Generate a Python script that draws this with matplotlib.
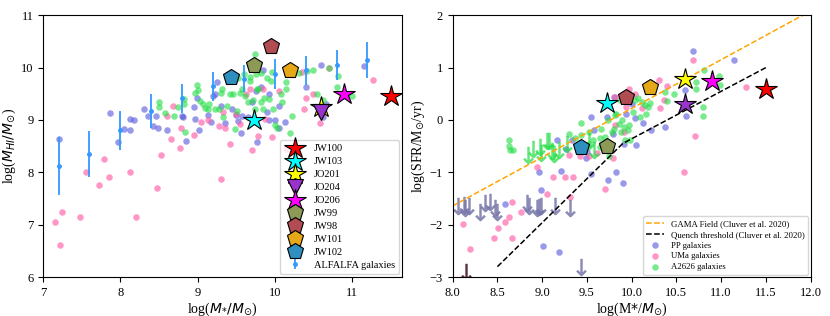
import matplotlib
matplotlib.use("Agg")
import matplotlib.pyplot as plt
import numpy as np

plt.rcParams['font.family'] = ['Liberation Serif', 'DejaVu Sans']
plt.rcParams['mathtext.fontset'] = 'dejavusans'

# ---- panel a: HI mass vs stellar mass ----
pp_hi_x = [7.2, 7.86, 7.97, 8.05, 8.12, 8.13, 8.18, 8.3, 8.36, 8.42, 8.46, 8.49, 8.61, 8.8, 8.81, 8.85,
           8.95, 8.97, 8.99, 9.02, 9.13, 9.17, 9.2, 9.22, 9.25, 9.3, 9.35, 9.45, 9.5, 9.53, 9.56, 9.58,
           9.65, 9.7, 9.76, 9.77, 9.82, 9.85, 9.9, 9.92, 9.93, 10.0, 10.05, 10.05, 10.13, 10.4, 10.6,
           10.66, 11.15, 10.62]
pp_hi_y = [8.63, 9.13, 8.57, 8.83, 8.8, 9.02, 9.0, 9.2, 9.07, 8.88, 9.07, 8.85, 8.8, 9.07, 9.05, 8.59,
           9.25, 9.02, 9.41, 8.81, 9.09, 8.97, 9.46, 9.5, 9.72, 9.27, 8.95, 9.2, 9.1, 8.98, 8.75, 9.07,
           9.05, 9.35, 9.55, 8.57, 9.62, 9.95, 9.15, 9.0, 9.5, 9.0, 8.85, 9.27, 8.97, 9.62, 10.05,
           9.3, 10.03, 9.05]

uma_hi_x = [7.15, 7.22, 7.24, 7.48, 7.55, 7.72, 7.79, 7.85, 8.13, 8.2, 8.47, 8.52, 8.6, 8.65, 8.68,
            8.77, 8.78, 8.95, 9.05, 9.13, 9.28, 9.3, 9.33, 9.36, 9.42, 9.5, 9.55, 9.63, 9.68, 9.71,
            9.78, 9.85, 9.88, 9.97, 10.05, 10.14, 10.35, 10.38, 10.4, 10.5, 10.58, 10.7, 11.27, 10.6]
uma_hi_y = [7.05, 6.62, 7.25, 7.15, 8.0, 7.75, 8.25, 7.92, 8.0, 7.15, 7.7, 8.34, 9.07, 8.64, 9.27,
            8.47, 8.84, 8.71, 8.96, 9.0, 8.89, 7.87, 9.15, 8.85, 8.55, 9.12, 8.93, 9.5, 9.6, 8.42,
            8.7, 9.6, 9.02, 8.67, 9.55, 8.45, 9.91, 9.2, 9.41, 9.5, 8.94, 10.0, 9.76, 9.1]

a26_hi_x = [8.5, 8.5, 8.58, 8.69, 8.75, 8.83, 8.83, 8.84, 8.97, 8.99, 9.01, 9.03, 9.07, 9.1, 9.13,
            9.22, 9.28, 9.32, 9.33, 9.38, 9.42, 9.46, 9.48, 9.51, 9.55, 9.57, 9.6, 9.62, 9.65, 9.68,
            9.72, 9.74, 9.75, 9.76, 9.78, 9.82, 9.82, 9.85, 9.86, 9.9, 9.92, 9.95, 9.97, 9.98, 10.0,
            10.03, 10.08, 10.1, 10.15, 10.15, 10.2, 10.22, 10.32, 10.42, 10.5, 10.55, 10.62, 10.7,
            10.8, 10.82, 11.0, 9.3, 9.15, 9.52, 9.68, 9.77]
a26_hi_y = [9.34, 9.25, 9.13, 9.07, 9.24, 9.4, 9.3, 8.77, 9.52, 9.67, 9.58, 9.36, 9.3, 9.22, 9.21,
            9.2, 9.2, 9.6, 9.05, 9.27, 9.5, 9.5, 8.83, 9.17, 9.52, 9.6, 9.88, 9.45, 9.35, 9.82,
            9.38, 9.2, 10.25, 9.87, 9.6, 9.35, 9.9, 9.2, 9.42, 9.8, 9.4, 9.75, 9.92, 9.2, 8.9,
            8.85, 9.5, 9.35, 9.73, 9.6, 8.75, 9.07, 9.9, 9.93, 9.95, 9.5, 9.38, 9.99,
            9.63, 9.83, 9.45, 9.52, 9.3, 9.8, 9.75, 9.6]

alfalfa_x = [7.2, 7.6, 8.0, 8.4, 8.8, 9.2, 9.6, 10.0, 10.4, 10.8, 11.2]
alfalfa_y = [8.12, 8.35, 8.8, 9.17, 9.41, 9.64, 9.79, 9.88, 9.95, 10.05, 10.14]
alfalfa_err = [0.55, 0.44, 0.38, 0.32, 0.28, 0.28, 0.25, 0.28, 0.28, 0.28, 0.34]

# ---- panel b: SFR vs stellar mass ----
pp_sfr_x = [8.59, 8.96, 8.99, 9.01, 9.19, 9.21, 9.17, 9.27, 9.33, 9.49, 9.5, 9.55, 9.55, 9.58, 9.72,
            9.73, 9.79, 9.8, 9.83, 9.9, 9.91, 9.94, 10.04, 10.05, 10.13, 10.22, 10.37, 10.6, 10.61,
            10.68, 11.14, 10.0]
pp_sfr_y = [-1.61, -0.99, -1.33, -2.41, -2.52, -0.97, -0.39, -0.55, -0.39, -0.72, -0.61, -1.03, 0.06,
            -0.2, 0.06, -1.15, -0.26, 0.44, -1.0, -1.21, -0.45, 0.12, 0.03, -0.48, -0.06, -0.2, -0.13,
            0.57, 0.07, 1.32, 1.14, 0.31]

uma_sfr_x = [8.12, 8.19, 8.46, 8.51, 8.58, 8.63, 8.66, 8.66, 8.76, 8.94, 9.05, 9.12, 9.26, 9.3, 9.31,
             9.35, 9.42, 9.52, 9.61, 9.7, 9.79, 9.81, 9.91, 9.94, 9.97, 10.04, 10.11, 10.22, 10.3,
             10.32, 10.36, 10.39, 10.58, 10.68, 10.71, 11.28, 9.81]
uma_sfr_y = [-1.99, -2.47, -2.25, -2.06, -1.95, -1.85, -1.57, -2.25, -1.75, -0.9, -1.41, -1.08, -1.08,
             -0.66, -1.47, -1.09, -0.69, -0.69, -0.64, -1.31, -0.72, -0.1, -0.23, 0.25, 0.6, 0.49, 0.22,
             0.6, 0.77, 0.22, 0.39, 0.64, -0.99, 1.15, -0.31, 0.62, 0.44]

a26_sfr_x = [8.63, 8.63, 8.64, 8.67, 9.3, 9.43, 9.52, 9.57, 9.65, 9.66, 9.7, 9.73, 9.75, 9.78, 9.8,
             9.83, 9.86, 9.88, 9.89, 9.91, 9.92, 9.97, 9.98, 10.02, 10.07, 10.09, 10.12, 10.15, 10.16,
             10.18, 10.2, 10.37, 10.4, 10.47, 10.72, 10.72, 10.81, 10.8, 10.8, 10.98, 10.99, 9.65,
             9.52, 9.43, 9.37, 9.87, 9.96, 10.04, 9.81]
a26_sfr_y = [-0.38, -0.49, -0.58, -0.58, -0.26, -0.06, -0.23, -0.39, -0.34, -0.17, -0.32, 0.0, -0.68,
             -0.23, -0.17, 0.12, -0.07, -0.23, -0.01, -0.13, -0.39, -0.1, -0.38, 0.15, 0.41, 0.06, 0.34,
             0.28, 0.12, 0.24, 0.33, 0.53, 0.36, 0.5, 0.73, 0.6, 0.96, 0.24, 0.08, 0.83, 0.66, -0.52,
             -0.46, -0.29, -0.34, 0.38, -0.2, 0.38, 0.09]

# upper limits (down arrows), y = top of the arrow
a26_lim_x = [8.84, 8.90, 8.98, 8.99, 9.05, 9.08, 9.11, 9.13, 9.19, 9.28, 9.52, 9.58]
a26_lim_y = [-0.55, -0.44, -0.39, -0.52, -0.29, -0.29, -0.48, -0.53, -0.45, -0.33, -0.29, -0.45]
pp_lim_x = [8.06, 8.13, 8.14, 8.18, 8.31, 8.36, 8.42, 8.47, 8.5, 8.83, 8.85, 8.94, 8.96, 8.99, 9.14,
            9.31, 9.43]
pp_lim_y = [-1.53, -1.5, -1.57, -1.53, -1.63, -1.46, -1.44, -1.57, -1.63, -1.47, -1.52, -1.57, -1.55,
            -1.53, -1.52, -1.57, -2.68]
dark_lim_x = [8.15]
dark_lim_y = [-2.78]

gama_x = [8.0, 12.0]
gama_y = [-1.64, 2.08]
quench_x = [8.5, 9.9, 11.5]
quench_y = [-2.8, -0.45, 1.0]

# jellyfish galaxies
jelly_names = ['JW100', 'JW103', 'JO201', 'JO204', 'JO206', 'JW99', 'JW98', 'JW101', 'JW102']
jelly_mass = [11.5, 9.73, 10.6, 10.6, 10.9, 9.73, 9.95, 10.2, 9.43]
jelly_hi = [9.45, 9.0, 9.25, 9.15, 9.5, 10.05, 10.42, 9.95, 9.82]
jelly_sfr_mass = [11.5, 9.72, 10.6, 10.6, 10.9, 9.72, 9.94, 10.2, 9.43]
jelly_sfr = [0.6, 0.33, 0.78, 0.3, 0.75, -0.5, 0.44, 0.62, -0.52]
jelly_colors = ['red', 'cyan', 'yellow', '#9933cc', 'magenta', '#8c9a55', '#b04c52', '#e6a817', '#2f8fbf']
jelly_mk_left = ['*', '*', '*', 'v', '*', 'p', 'p', 'p', 'p']
jelly_mk_right = ['*', '*', '*', '*', '*', 'p', 'p', 'p', 'p']

c_pp = '#5555dd'
c_uma = '#ff5fa8'
c_a26 = '#22dd44'
c_lim = '#7777aa'
arrow_len = 0.24


def down_arrows(ax, xs, ys, color, alpha):
    # arrow glyph centred half an arrow below the limit value
    yc = np.array(ys) - arrow_len / 2
    ax.scatter(xs, yc, marker=r'$\downarrow$', s=150, color=color, alpha=alpha, lw=0.3)


fig = plt.figure(figsize=(8.3, 3.16), dpi=100)
ax1 = fig.add_axes([0.052, 0.123, 0.4325, 0.829])
ax2 = fig.add_axes([0.5454, 0.123, 0.4313, 0.829])

# left panel
ax1.scatter(pp_hi_x, pp_hi_y, s=22, color=c_pp, alpha=0.6, lw=0)
ax1.scatter(uma_hi_x, uma_hi_y, s=22, color=c_uma, alpha=0.65, lw=0)
ax1.scatter(a26_hi_x, a26_hi_y, s=22, color=c_a26, alpha=0.6, lw=0)
alf = ax1.errorbar(alfalfa_x, alfalfa_y, yerr=alfalfa_err, fmt='o', ms=2.5, color='#3399ff',
                   elinewidth=1.3, label='ALFALFA galaxies', zorder=3)
handles = []
for i in range(len(jelly_names)):
    ms = 16 if jelly_mk_left[i] == '*' else 12
    h, = ax1.plot(jelly_mass[i], jelly_hi[i], ls='none', marker=jelly_mk_left[i], ms=ms,
                  color=jelly_colors[i], mec='black', mew=0.8, label=jelly_names[i], zorder=5)
    handles.append(h)
ax1.legend(handles=handles + [alf], loc='lower right', fontsize=7.5, borderaxespad=0.3,
           handletextpad=0.8, labelspacing=0.35, borderpad=0.4)
ax1.set_xlim(7, 11.65)
ax1.set_ylim(6, 11)
ax1.set_xticks([7, 8, 9, 10, 11])
ax1.set_xlabel(r'log($M_{*}/M_{\odot}$)', fontsize=10, labelpad=1)
ax1.set_ylabel(r'log($M_{HI}/M_{\odot}$)', fontsize=10, labelpad=2)
ax1.tick_params(labelsize=9)

# right panel
ax2.plot(gama_x, gama_y, ls='--', color='orange', lw=1.1, label='GAMA Field (Cluver et al. 2020)')
ax2.plot(quench_x, quench_y, ls='--', color='black', lw=1.1,
         label='Quench threshold (Cluver et al. 2020)')
ax2.scatter(pp_sfr_x, pp_sfr_y, s=22, color=c_pp, alpha=0.6, lw=0, label='PP galaxies')
ax2.scatter(uma_sfr_x, uma_sfr_y, s=22, color=c_uma, alpha=0.65, lw=0, label='UMa galaxies')
ax2.scatter(a26_sfr_x, a26_sfr_y, s=22, color=c_a26, alpha=0.6, lw=0, label='A2626 galaxies')
down_arrows(ax2, pp_lim_x, pp_lim_y, c_lim, 0.85)
down_arrows(ax2, dark_lim_x, dark_lim_y, '#5a3344', 1.0)
down_arrows(ax2, a26_lim_x, a26_lim_y, c_a26, 0.7)
for i in range(len(jelly_names)):
    ms = 16 if jelly_mk_right[i] == '*' else 12
    ax2.plot(jelly_sfr_mass[i], jelly_sfr[i], ls='none', marker=jelly_mk_right[i], ms=ms,
             color=jelly_colors[i], mec='black', mew=0.8, zorder=5)
ax2.legend(loc='lower right', fontsize=6.3, borderaxespad=0.3, labelspacing=0.3, borderpad=0.4)
ax2.set_xlim(8, 12)
ax2.set_ylim(-3, 2)
ax2.set_xlabel(r'log(M$*$/$M_{\odot}$)', fontsize=10, labelpad=1)
ax2.set_ylabel(r'log(SFR/M$_{\odot}$/yr)', fontsize=10, labelpad=2)
ax2.tick_params(labelsize=9)

fig.savefig('out.png', dpi=100)
